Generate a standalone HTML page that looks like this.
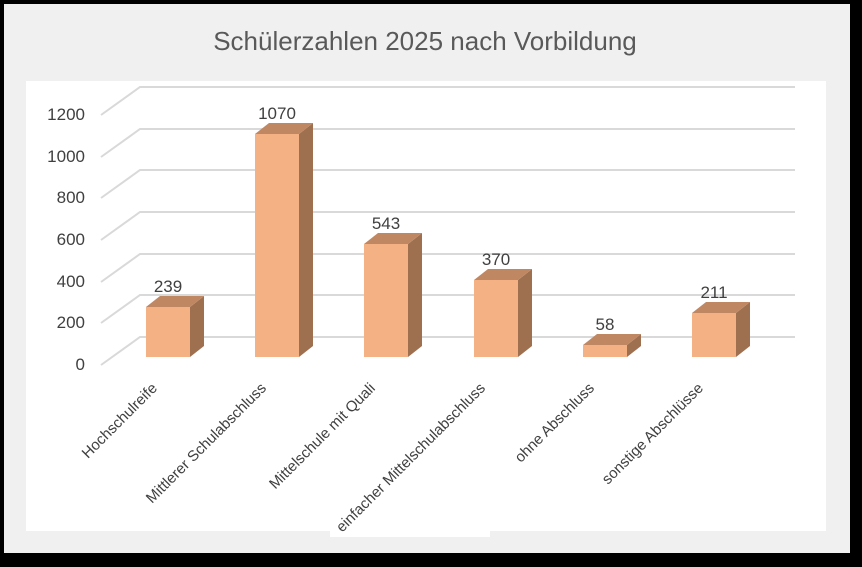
<!DOCTYPE html>
<html><head><meta charset="utf-8"><style>
html,body{margin:0;padding:0;background:#000;}
svg{display:block;}
text{font-family:"Liberation Sans",sans-serif;fill:#404040;}
</style></head><body>
<svg width="862" height="567" viewBox="0 0 862 567">
<rect x="0" y="0" width="862" height="567" fill="#000"/>
<rect x="4" y="4" width="846" height="549" fill="#f0f0f0"/>
<rect x="26" y="81" width="800" height="450" fill="#fff"/>
<rect x="330" y="530" width="160" height="7" fill="#fff"/>
<text x="425" y="50" text-anchor="middle" font-size="26" style="fill:#595959">Schülerzahlen 2025 nach Vorbildung</text>
<g stroke="#d9d9d9" stroke-width="2" fill="none">
<polyline points="101,365 140,337 795,337"/>
<polyline points="101,323 140,295 795,295"/>
<polyline points="101,282 140,254 795,254"/>
<polyline points="101,240 140,212 795,212"/>
<polyline points="101,198 140,170 795,170"/>
<polyline points="101,157 140,129 795,129"/>
<polyline points="101,115 140,87 795,87"/>
</g>
<g font-size="17" text-anchor="end">
<text x="85" y="370">0</text>
<text x="85" y="328">200</text>
<text x="85" y="287">400</text>
<text x="85" y="245">600</text>
<text x="85" y="203">800</text>
<text x="85" y="162">1000</text>
<text x="85" y="120">1200</text>
</g>

<g>
<polygon points="190,307 204,296 204,346 190,357" fill="#9e7050"/>
<polygon points="146,307 160,296 204,296 190,307" fill="#c08763"/>
<rect x="146" y="307" width="44" height="50" fill="#f4b183"/>

<polygon points="299,134 313,123 313,346 299,357" fill="#9e7050"/>
<polygon points="255,134 269,123 313,123 299,134" fill="#c08763"/>
<rect x="255" y="134" width="44" height="223" fill="#f4b183"/>

<polygon points="408,244 422,233 422,346 408,357" fill="#9e7050"/>
<polygon points="364,244 378,233 422,233 408,244" fill="#c08763"/>
<rect x="364" y="244" width="44" height="113" fill="#f4b183"/>

<polygon points="518,280 532,269 532,346 518,357" fill="#9e7050"/>
<polygon points="474,280 488,269 532,269 518,280" fill="#c08763"/>
<rect x="474" y="280" width="44" height="77" fill="#f4b183"/>

<polygon points="627,345 641,334 641,346 627,357" fill="#9e7050"/>
<polygon points="583,345 597,334 641,334 627,345" fill="#c08763"/>
<rect x="583" y="345" width="44" height="12" fill="#f4b183"/>

<polygon points="736,313 750,302 750,346 736,357" fill="#9e7050"/>
<polygon points="692,313 706,302 750,302 736,313" fill="#c08763"/>
<rect x="692" y="313" width="44" height="44" fill="#f4b183"/>
</g>

<g font-size="17" text-anchor="middle">
<text x="168" y="292">239</text>
<text x="277" y="119">1070</text>
<text x="386" y="229">543</text>
<text x="496" y="265">370</text>
<text x="605" y="330">58</text>
<text x="714" y="298">211</text>
</g>

<g font-size="15" text-anchor="end">
<text transform="translate(158,389) rotate(-45)">Hochschulreife</text>
<text transform="translate(267,389) rotate(-45)">Mittlerer Schulabschluss</text>
<text transform="translate(376,389) rotate(-45)">Mittelschule mit Quali</text>
<text transform="translate(486,389) rotate(-45)">einfacher Mittelschulabschluss</text>
<text transform="translate(595,389) rotate(-45)">ohne Abschluss</text>
<text transform="translate(704,389) rotate(-45)">sonstige Abschlüsse</text>
</g>
</svg>
</body></html>
